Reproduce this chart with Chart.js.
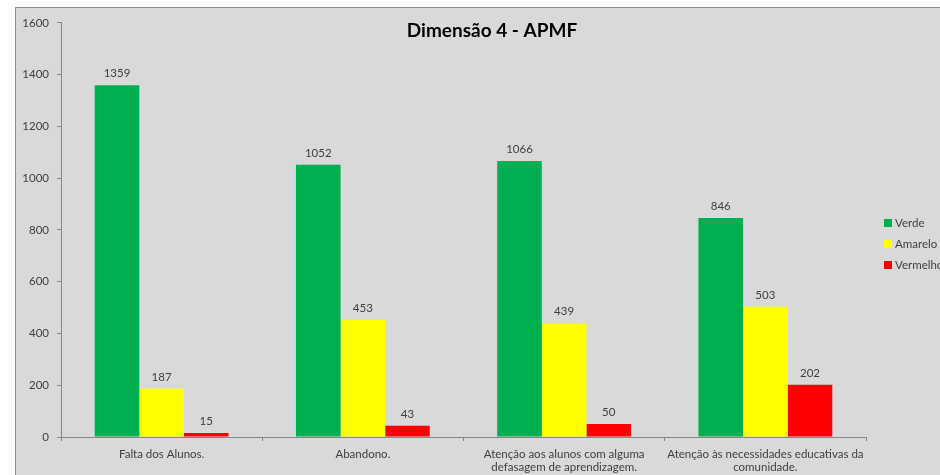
<!DOCTYPE html>
<html>
<head>
<meta charset="utf-8">
<script src="https://cdn.jsdelivr.net/npm/chart.js@4.4.1/dist/chart.umd.min.js"></script>
<style>
  html, body { margin: 0; padding: 0; background: #fff; }
  #wrap {
    position: absolute; left: 15px; top: 7px;
    width: 925px; height: 468px;
    background: #d9d9d9;
    border-top: 1px solid #8c8c8c; border-left: 1px solid #8c8c8c;
  }
</style>
</head>
<body>
<div id="wrap"><canvas id="myChart" width="925" height="468"></canvas></div>
<script>
const categories = [
  "Falta dos Alunos.",
  "Abandono.",
  ["Atenção aos alunos com alguma", "defasagem de aprendizagem."],
  ["Atenção às necessidades educativas da", "comunidade."],
];
const verde = [1359, 1052, 1066, 846];
const amarelo = [187, 453, 439, 503];
const vermelho = [15, 43, 50, 202];
const yTicks = [0, 200, 400, 600, 800, 1000, 1200, 1400, 1600];

const axisColor = "#868686";
const textColor = "#404040";
const font = "Lato, 'Open Sans', sans-serif";

// value labels, title and the side legend
const extras = {
  id: "extras",
  afterDatasetsDraw(chart) {
    const c = chart.ctx;
    c.save();
    c.fillStyle = textColor;
    c.font = "11.5px " + font;
    c.textAlign = "center";
    c.textBaseline = "bottom";
    chart.data.datasets.forEach((ds, i) => {
      chart.getDatasetMeta(i).data.forEach((bar, j) => {
        c.fillText(ds.data[j], bar.x, bar.y - 6);
      });
    });

    c.fillStyle = "#000";
    c.font = "bold 19px " + font;
    c.textBaseline = "middle";
    c.fillText("Dimensão 4 - APMF", 476, 23);

    c.font = "11.5px " + font;
    c.textAlign = "left";
    chart.data.datasets.forEach((ds, i) => {
      const y = 215 + i * 21;
      c.fillStyle = ds.backgroundColor;
      c.fillRect(868, y - 4, 8, 8);
      c.fillStyle = textColor;
      c.fillText(ds.label, 879, y);
    });
    c.restore();
  },
};

new Chart(document.getElementById("myChart"), {
  type: "bar",
  data: {
    labels: categories,
    datasets: [
      { label: "Verde", data: verde, backgroundColor: "#00b050" },
      { label: "Amarelo", data: amarelo, backgroundColor: "#ffff00" },
      { label: "Vermelho", data: vermelho, backgroundColor: "#ff0000" },
    ],
  },
  options: {
    responsive: false,
    animation: false,
    layout: { padding: { left: 0, right: 75, top: 13, bottom: 0 } },
    datasets: {
      bar: { categoryPercentage: 0.665, barPercentage: 1.0, borderWidth: 0 },
    },
    plugins: {
      legend: { display: false },
      tooltip: { enabled: false },
    },
    scales: {
      x: {
        afterFit(scale) { scale.height = 39; },
        grid: {
          display: true,
          drawOnChartArea: false,
          tickLength: 4,
          color: axisColor,
        },
        border: { display: true, color: axisColor },
        ticks: {
          color: textColor,
          font: { family: font, size: 11.5 },
          padding: 6,
          maxRotation: 0,
          autoSkip: false,
        },
      },
      y: {
        min: 0,
        max: 1600,
        afterFit(scale) { scale.width = 45; },
        afterBuildTicks(scale) { scale.ticks = yTicks.map((v) => ({ value: v })); },
        grid: {
          display: true,
          drawOnChartArea: false,
          tickLength: 4,
          color: axisColor,
        },
        border: { display: true, color: axisColor },
        ticks: {
          color: textColor,
          font: { family: font, size: 11.5 },
          padding: 8,
          callback: (v) => String(v),
        },
      },
    },
  },
  plugins: [extras],
});
</script>
</body>
</html>
